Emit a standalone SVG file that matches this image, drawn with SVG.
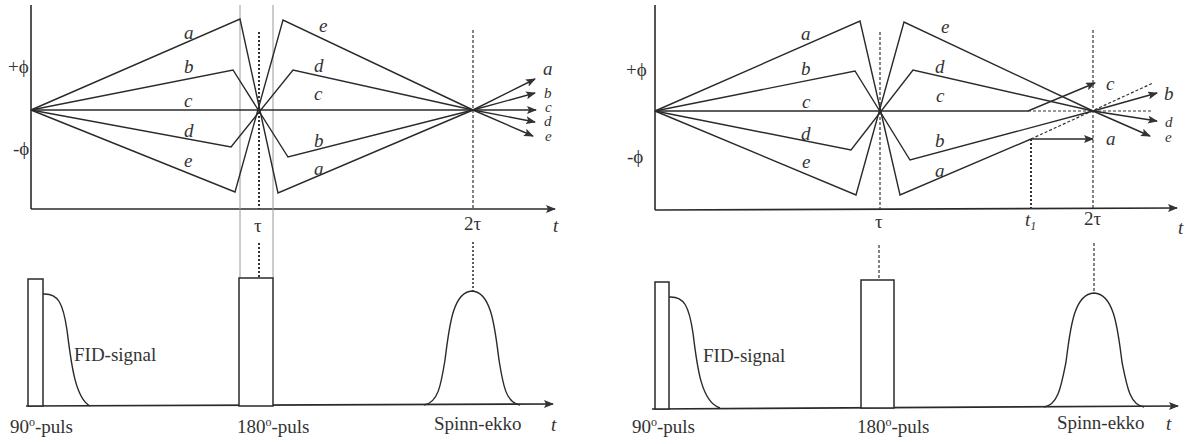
<svg xmlns="http://www.w3.org/2000/svg" width="1189" height="444" viewBox="0 0 1189 444">
<defs>
<marker id="ar" viewBox="0 0 10 8" refX="9" refY="4" markerWidth="10" markerHeight="8" markerUnits="userSpaceOnUse" orient="auto">
<path d="M0,0 L10,4 L0,8 L2,4 Z" fill="#333"/>
</marker>
</defs>
<style>
.ln{fill:none;stroke:#2a2a2a;stroke-width:1.4;stroke-linejoin:miter}
.ax{fill:none;stroke:#2a2a2a;stroke-width:1.6}
.gr{fill:none;stroke:#9a9a9a;stroke-width:1}
.dot{fill:none;stroke:#333;stroke-width:2;stroke-dasharray:2 2}
.dsh{fill:none;stroke:#333;stroke-width:1.2;stroke-dasharray:3 2}
.pl{fill:#fff;stroke:#2a2a2a;stroke-width:1.5}
.lb{font-family:'Liberation Serif','DejaVu Serif',serif;font-style:italic;font-size:19px;fill:#333}
.sm{font-size:15px}
.tx{font-family:'Liberation Serif','DejaVu Serif',serif;font-size:19px;fill:#333}
</style>
<rect width="1189" height="444" fill="#fff"/>

<!-- LEFT PANEL -->
<g id="left-axes">
<path class="ax" d="M31,5 L31,209"/>
<path class="ax" d="M31,209 L555,209" marker-end="url(#ar)"/>
<text class="tx" x="8" y="73">+ϕ</text>
<text class="tx" x="13" y="155">-ϕ</text>
<text class="tx" x="254" y="232">τ</text>
<text class="tx" x="464" y="230">2τ</text>
<text class="lb" x="553" y="232">t</text>
</g>
<g id="left-guides">
<path class="gr" d="M240,5 L240,278 M273,5 L273,278"/>
<path class="dot" d="M259,32 L259,209 M259,243 L259,278"/>
<path class="dsh" d="M473,30 L473,209"/>
<path class="dot" d="M473,242 L473,291" style="stroke-width:1.6"/>
</g>
<g id="left-connectors">
<path class="ln" d="M31,110 L240,19 L278,193 L473,110 L535,79" marker-end="url(#ar)"/>
<path class="ln" d="M31,110 L233,70 L288,157 L473,110 L535,93" marker-end="url(#ar)"/>
<path class="ln" d="M31,110 L536,110" marker-end="url(#ar)"/>
<path class="ln" d="M31,110 L231,147 L293,70 L473,110 L535,122" marker-end="url(#ar)"/>
<path class="ln" d="M31,110 L235,192 L283,20 L473,110 L533,136" marker-end="url(#ar)"/>
</g>
<g id="left-labels">
<text class="lb" x="184" y="39">a</text>
<text class="lb" x="184" y="73">b</text>
<text class="lb" x="184" y="107">c</text>
<text class="lb" x="184" y="137">d</text>
<text class="lb" x="184" y="167">e</text>
<text class="lb" x="319" y="32">e</text>
<text class="lb" x="314" y="72">d</text>
<text class="lb" x="314" y="100">c</text>
<text class="lb" x="314" y="147">b</text>
<text class="lb" x="314" y="175">a</text>
<text class="lb" x="543" y="75">a</text>
<text class="lb sm" x="544" y="98">b</text>
<text class="lb sm" x="545" y="112">c</text>
<text class="lb sm" x="544" y="126">d</text>
<text class="lb sm" x="545" y="141">e</text>
</g>
<g id="left-pulses">
<path class="ax" d="M26,406 L553,404" marker-end="url(#ar)"/>
<rect class="pl" x="28" y="279" width="15" height="127"/>
<path class="ln" d="M43,294 C58,293 63,303 67,330 C71,362 75,398 90,406"/>
<rect class="pl" x="239" y="278" width="34" height="128"/>
<path class="ln" d="M424,405 C438,403 441,385 445,360 C449,330 452,292 472,291 C492,292 495,330 499,360 C503,385 506,403 520,405"/>
<text class="tx" x="74" y="361">FID-signal</text>
<text class="tx" x="10" y="433">90<tspan font-size="12" dy="-7">o</tspan><tspan dy="7">-puls</tspan></text>
<text class="tx" x="237" y="433">180<tspan font-size="12" dy="-7">o</tspan><tspan dy="7">-puls</tspan></text>
<text class="tx" x="434" y="430">Spinn-ekko</text>
<text class="lb" x="551" y="431">t</text>
</g>

<!-- RIGHT PANEL -->
<g id="right-axes">
<path class="ax" d="M655,5 L655,210"/>
<path class="ax" d="M655,210 L1177,208" marker-end="url(#ar)"/>
<text class="tx" x="626" y="76">+ϕ</text>
<text class="tx" x="627" y="163">-ϕ</text>
<text class="tx" x="875" y="228">τ</text>
<text class="lb" x="1025" y="226">t<tspan font-size="12" dy="4">1</tspan></text>
<text class="tx" x="1084" y="225">2τ</text>
<text class="lb" x="1178" y="234">t</text>
</g>
<g id="right-guides">
<path class="dsh" d="M880,32 L880,210"/>
<path class="dsh" d="M879,245 L879,280"/>
<path class="dsh" d="M1093,30 L1093,209"/>
<path class="dsh" d="M1094,243 L1094,293"/>
<path class="dot" d="M1031,139 L1031,209"/>
</g>
<g id="right-connectors">
<path class="ln" d="M655,111 L860,21 L900,195 L1031,139 L1093,139" marker-end="url(#ar)"/>
<path class="dsh" d="M1031,139 L1153,83"/>
<path class="ln" d="M655,111 L855,71 L910,160 L1093,111 L1157,93" marker-end="url(#ar)"/>
<path class="ln" d="M655,111 L1028,111 L1095,83" marker-end="url(#ar)"/>
<path class="dsh" d="M1028,111 L1153,111"/>
<path class="ln" d="M655,111 L851,150 L913,70 L1093,111 L1157,121" marker-end="url(#ar)"/>
<path class="ln" d="M655,111 L856,195 L904,22 L1093,111 L1150,136" marker-end="url(#ar)"/>
</g>
<g id="right-labels">
<text class="lb" x="801" y="40">a</text>
<text class="lb" x="801" y="75">b</text>
<text class="lb" x="802" y="108">c</text>
<text class="lb" x="801" y="140">d</text>
<text class="lb" x="802" y="168">e</text>
<text class="lb" x="941" y="33">e</text>
<text class="lb" x="935" y="73">d</text>
<text class="lb" x="936" y="102">c</text>
<text class="lb" x="935" y="147">b</text>
<text class="lb" x="935" y="177">a</text>
<text class="lb" x="1106" y="90">c</text>
<text class="lb" x="1106" y="145">a</text>
<text class="lb" x="1164" y="100">b</text>
<text class="lb sm" x="1165" y="127">d</text>
<text class="lb sm" x="1165" y="142">e</text>
</g>
<g id="right-pulses">
<path class="ax" d="M652,409 L1178,406" marker-end="url(#ar)"/>
<rect class="pl" x="655" y="282" width="14" height="127"/>
<path class="ln" d="M669,297 C684,296 689,306 693,333 C697,366 701,402 720,408"/>
<rect class="pl" x="861" y="280" width="33" height="128"/>
<path class="ln" d="M1044,407 C1058,405 1061,387 1066,362 C1070,332 1073,294 1094,293 C1115,294 1118,332 1122,362 C1127,387 1130,405 1144,407"/>
<text class="tx" x="703" y="362">FID-signal</text>
<text class="tx" x="632" y="433">90<tspan font-size="12" dy="-7">o</tspan><tspan dy="7">-puls</tspan></text>
<text class="tx" x="857" y="433">180<tspan font-size="12" dy="-7">o</tspan><tspan dy="7">-puls</tspan></text>
<text class="tx" x="1057" y="429">Spinn-ekko</text>
<text class="lb" x="1166" y="430">t</text>
</g>
</svg>
